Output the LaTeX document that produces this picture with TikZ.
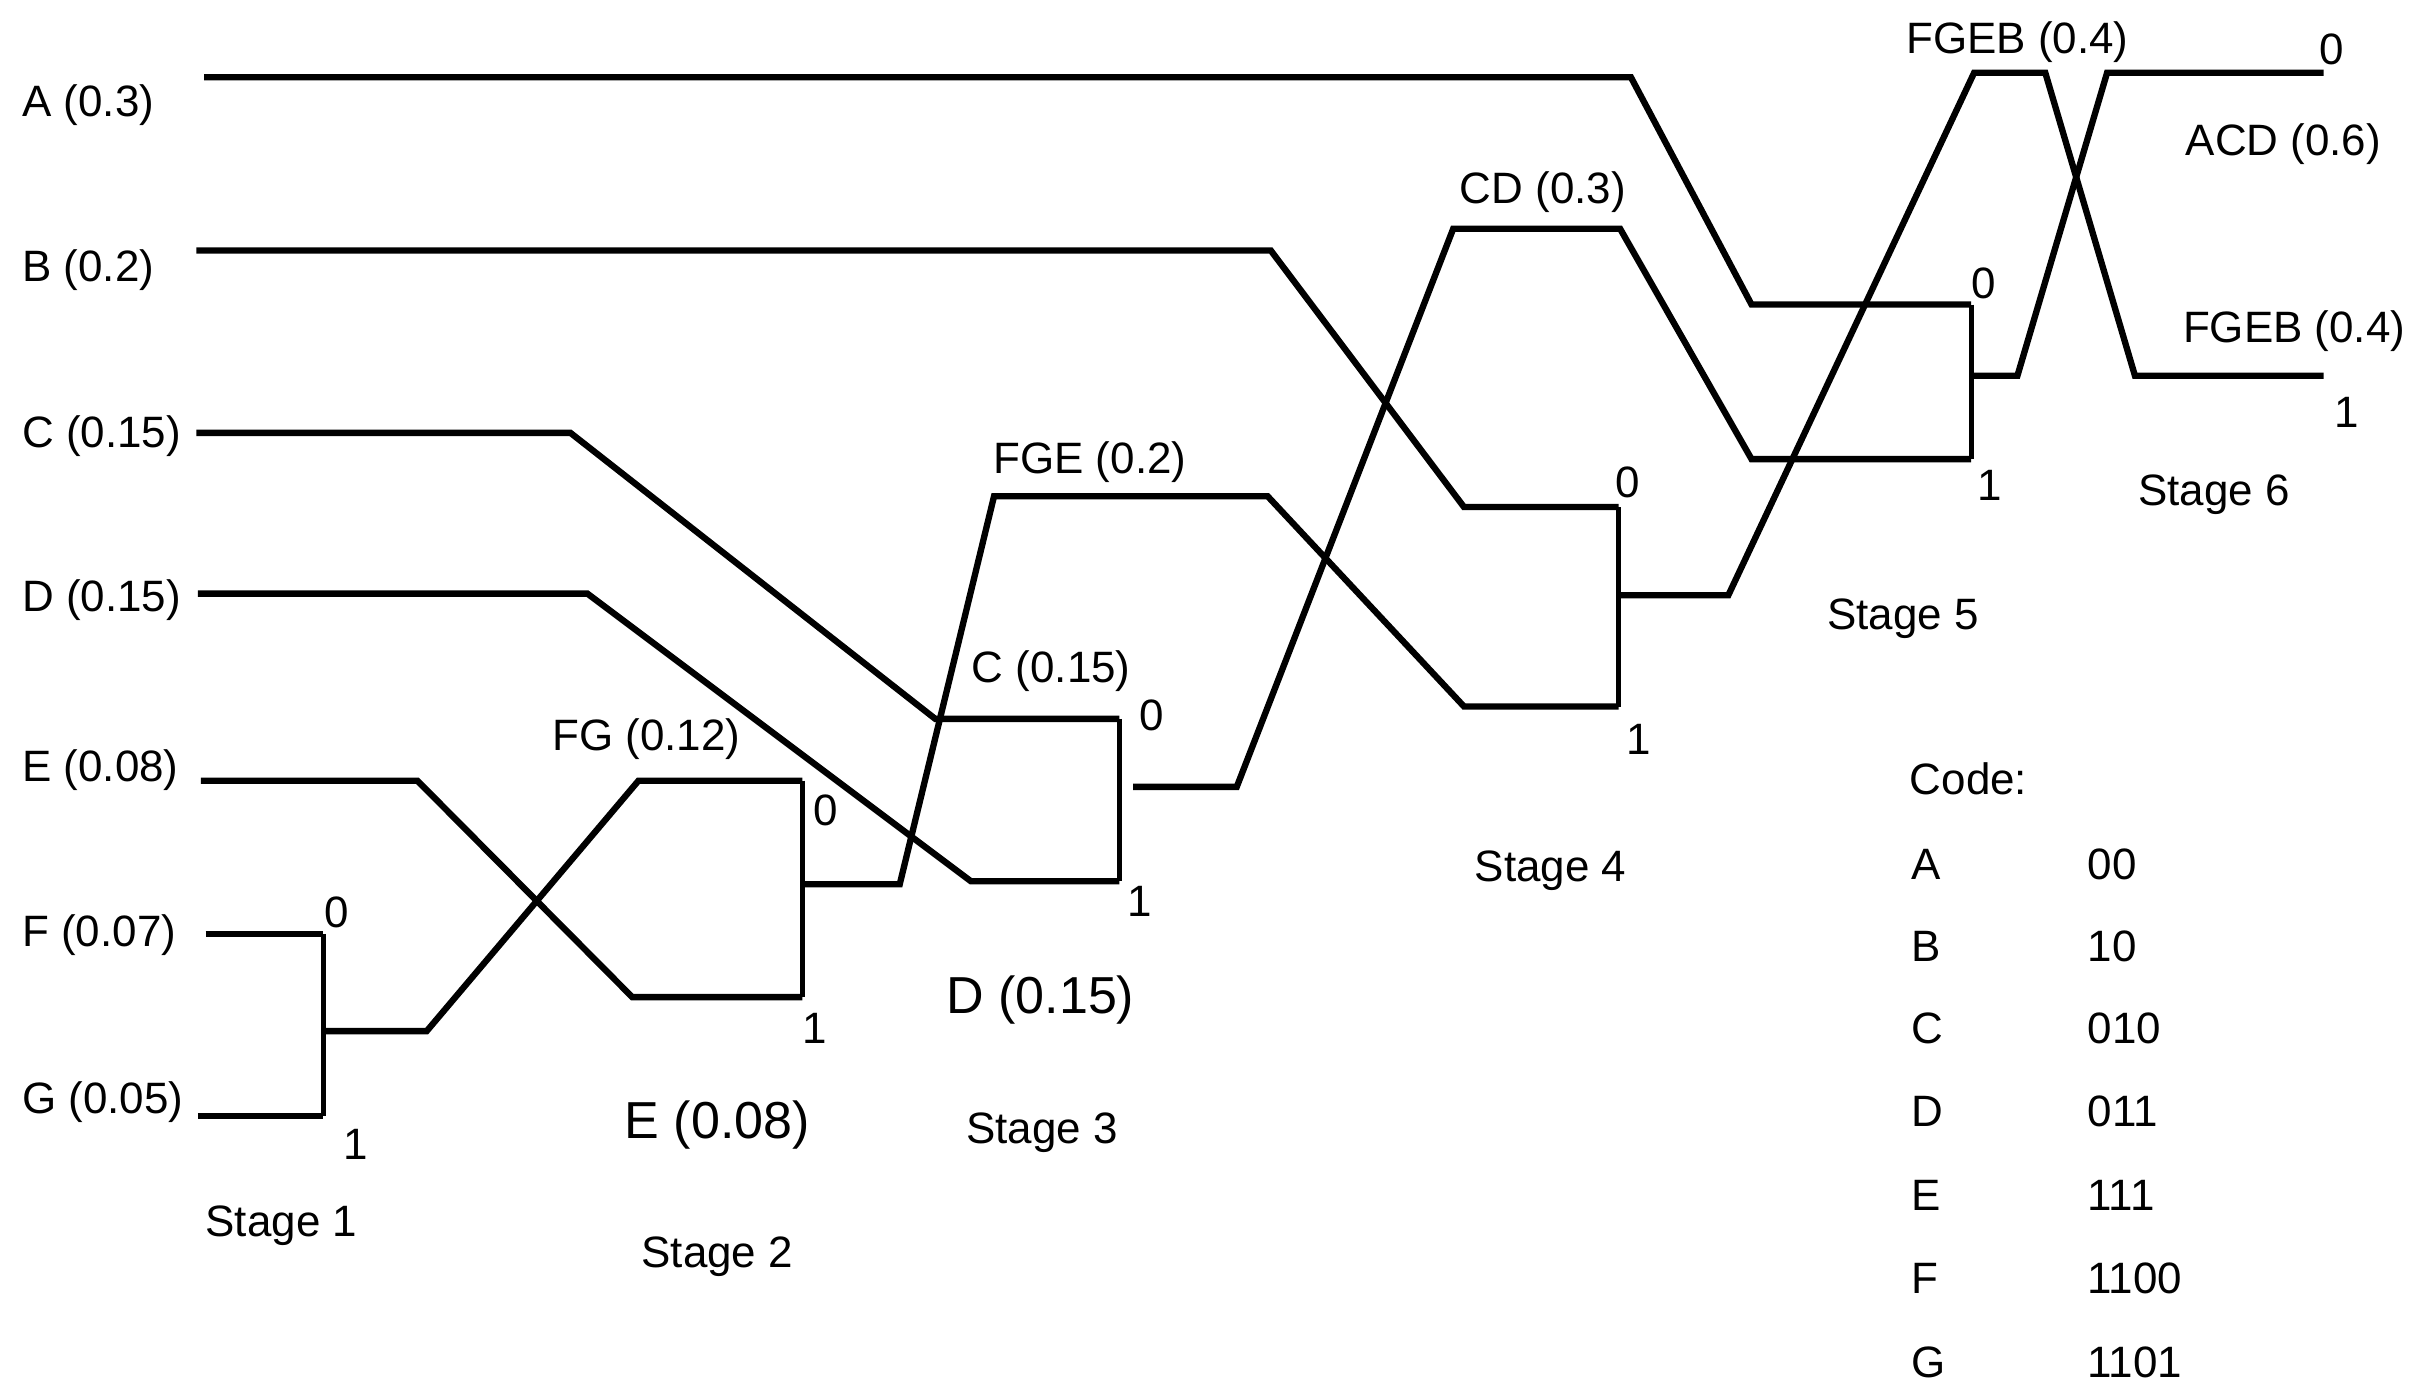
\documentclass[tikz,border=0pt]{standalone}
\usepackage{fontspec}
\setmainfont{Liberation Sans}
\begin{document}
\begin{tikzpicture}[x=0.01546cm, y=-0.01546cm,
    wire/.style={line width=1.8pt, line join=miter},
    mergebar/.style={line width=1.4pt},
    txt/.style={inner sep=0pt, font=\fontsize{12.5}{15}\selectfont},
    big/.style={inner sep=0pt, font=\fontsize{14.8}{18}\selectfont}]
  \useasboundingbox (0,0) rectangle (1568,897);

  % symbols with their probabilities
  \node[txt, anchor=west] (symA) at (14,68) {A (0.3)};
  \node[txt, anchor=west] (symB) at (14,175) {B (0.2)};
  \node[txt, anchor=west] (symC) at (14,282) {C (0.15)};
  \node[txt, anchor=west] (symD) at (14,388) {D (0.15)};
  \node[txt, anchor=west] (symE) at (14,498) {E (0.08)};
  \node[txt, anchor=west] (symF) at (14,605) {F (0.07)};
  \node[txt, anchor=west] (symG) at (14,713) {G (0.05)};

  % merge points of each stage
  \coordinate (s1t) at (209,604);  \coordinate (s1b) at (209,722);  \coordinate (s1m) at (209,667);
  \coordinate (s2t) at (519,505);  \coordinate (s2b) at (519,645);  \coordinate (s2m) at (519,572);
  \coordinate (s3t) at (724,465);  \coordinate (s3b) at (724,570);  \coordinate (s3m) at (733,509);
  \coordinate (s4t) at (1047,328); \coordinate (s4b) at (1047,457); \coordinate (s4m) at (1047,385);
  \coordinate (s5t) at (1275,197); \coordinate (s5b) at (1275,297); \coordinate (s5m) at (1275,243);
  \coordinate (s6t) at (1503,47);  \coordinate (s6b) at (1503,243);

  % input lines
  \draw[wire] (132,50) -- (1055,50) -- (1133,197) -- (s5t);
  \draw[wire] (127,162) -- (822,162) -- (947,328) -- (s4t);
  \draw[wire] (127,280) -- (369,280) -- (605,465) -- (s3t);
  \draw[wire] (128,384) -- (380,384) -- (628,570) -- (s3b);
  \draw[wire] (130,505) -- (270,505) -- (409,645) -- (s2b);
  \draw[wire] (133,604) -- (s1t);
  \draw[wire] (128,722) -- (s1b);

  % merge bars
  \foreach \s in {1,...,5}
    \draw[mergebar] (s\s t) -- (s\s b);

  % merged lines
  \draw[wire] (s1m) -- (276,667) -- (413,505) -- (s2t);
  \draw[wire] (s2m) -- (582,572) -- (643,321) -- (820,321) -- (947,457) -- (s4b);
  \draw[wire] (s3m) -- (800,509) -- (940,148) -- (1048,148) -- (1133,297) -- (s5b);
  \draw[wire] (s4m) -- (1118,385) -- (1277,47) -- (1323,47) -- (1381,243) -- (s6b);
  \draw[wire] (s5m) -- (1305,243) -- (1363,47) -- (s6t);

  % bits
  \node[txt] (b1z) at (218,590) {0};  \node[txt] (b1o) at (230,740) {1};
  \node[txt] (b2z) at (534,524) {0};  \node[txt] (b2o) at (527,665) {1};
  \node[txt] (b3z) at (745,463) {0};  \node[txt] (b3o) at (737,583) {1};
  \node[txt] (b4z) at (1053,312) {0}; \node[txt] (b4o) at (1060,478) {1};
  \node[txt] (b5z) at (1283,183) {0}; \node[txt] (b5o) at (1287,314) {1};
  \node[txt] (b6z) at (1508,32) {0};  \node[txt] (b6o) at (1518,267) {1};

  % merged symbols
  \node[txt] (fg) at (418,478) {FG (0.12)};
  \node[txt] (fge) at (705,299) {FGE (0.2)};
  \node[txt] (cc) at (680,434) {C (0.15)};
  \node[txt] (cd) at (998,124) {CD (0.3)};
  \node[txt] (fgeb) at (1305,27) {FGEB (0.4)};
  \node[txt] (acd) at (1477,93) {ACD (0.6)};
  \node[txt] (fgebb) at (1484,214) {FGEB (0.4)};
  \node[big] (ee) at (464,728) {E (0.08)};
  \node[big] (dd) at (673,647) {D (0.15)};

  % stages
  \node[txt] (st1) at (182,793) {Stage 1};
  \node[txt] (st2) at (464,813) {Stage 2};
  \node[txt] (st3) at (674,733) {Stage 3};
  \node[txt] (st4) at (1003,563) {Stage 4};
  \node[txt] (st5) at (1231,400) {Stage 5};
  \node[txt] (st6) at (1432,320) {Stage 6};

  % code table
  \node[txt, anchor=west] (code) at (1235,504) {Code:};
  \foreach \sym/\bits/\y in {A/00/559, B/10/612, C/010/665, D/011/719,
                             E/111/773, F/1100/827, G/1101/881} {
    \node[txt, anchor=west] (k\sym) at (1236,\y) {\sym};
    \node[txt, anchor=west] (c\sym) at (1350,\y) {\bits};
  }
\end{tikzpicture}
\end{document}
